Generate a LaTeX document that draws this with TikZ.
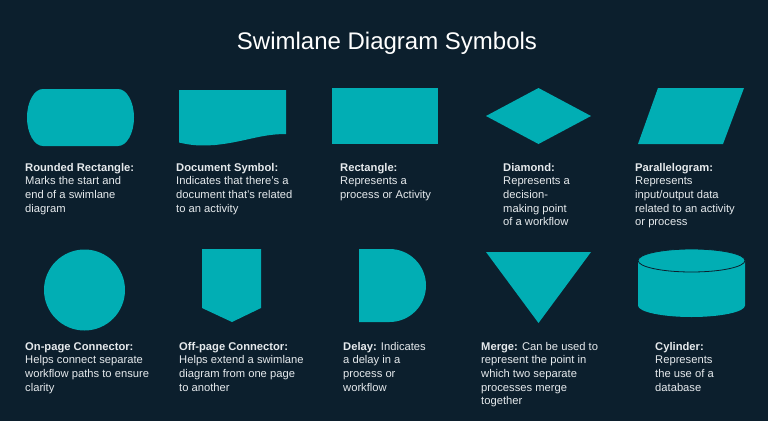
\documentclass[tikz,border=0pt]{standalone}
\usepackage{fontspec}
\setmainfont{Liberation Sans}
\definecolor{bg}{HTML}{0C1F2D}
\definecolor{tealfill}{HTML}{01AEB4}
\definecolor{txt}{HTML}{E6EAED}
\begin{document}
\begin{tikzpicture}[x=1pt,y=-1pt,
  symbol/.style={fill=tealfill},
  desc/.style={anchor=base west,inner sep=0pt,align=left,text=txt,
    font=\fontsize{11.2}{13.7}\selectfont},
  titletext/.style={inner sep=0pt,text=white,font=\fontsize{24}{28}\selectfont}]
\useasboundingbox (0,0) rectangle (768,421);
\fill[bg] (0,0) rectangle (768,421);
\node[titletext,anchor=base] (title) at (387,49) {Swimlane Diagram Symbols};
% row 1 shapes
\fill[symbol] (43,89) -- (118,89) arc (-90:90:16 and 28.5) -- (43,146) arc (90:270:16 and 28.5) -- cycle;
\fill[symbol] (179,90) -- (286,90) -- (286,134)
  .. controls (260,134) and (245,142) .. (215,145)
  .. controls (200,146) and (192,145.5) .. (179,142.5) -- cycle;
\fill[symbol] (332,88) rectangle (438,144);
\fill[symbol] (486,116) -- (538.5,88) -- (591,116) -- (538.5,144) -- cycle;
\fill[symbol] (638,144) -- (658,88) -- (744,88) -- (723,144) -- cycle;
% row 2 shapes
\fill[symbol] (84.5,290) circle (40.5);
\fill[symbol] (202,249) -- (261,249) -- (261,308) -- (232,322) -- (202,308) -- cycle;
\fill[symbol] (359,249) -- (389.5,249) arc (-90:90:36.5) -- (359,322) -- cycle;
\fill[symbol] (486,252) -- (591,252) -- (538.5,323) -- cycle;
\fill[symbol] (638,260.5) -- (638,305.5) arc (180:0:53.5 and 11.5) -- (745,260.5) arc (0:-180:53.5 and 11.5) -- cycle;
\draw[bg,line width=0.8pt] (691.5,260.5) ellipse (53.5 and 11.5);
% row 1 texts (anchored at baseline of last line; first baseline at y=171)
\node[desc] (t1) at (25,212.1) {\textbf{Rounded Rectangle:}\\Marks the start and\\end of a swimlane\\diagram};
\node[desc] (t2) at (176,212.1) {\textbf{Document Symbol:}\\Indicates that there’s a\\document that’s related\\to an activity};
\node[desc] (t3) at (340,198.4) {\textbf{Rectangle:}\\Represents a\\process or Activity};
\node[desc] (t4) at (503,225.8) {\textbf{Diamond:}\\Represents a\\decision-\\making point\\of a workflow};
\node[desc] (t5) at (635,225.8) {\textbf{Parallelogram:}\\Represents\\input/output data\\related to an activity\\or process};
% row 2 texts (first baseline at y=350)
\node[desc] (t6) at (25,391.1) {\textbf{On-page Connector:}\\Helps connect separate\\workflow paths to ensure\\clarity};
\node[desc] (t7) at (179,391.1) {\textbf{Off-page Connector:}\\Helps extend a swimlane\\diagram from one page\\to another};
\node[desc] (t8) at (343,391.1) {\textbf{Delay:} Indicates\\a delay in a\\process or\\workflow};
\node[desc] (t9) at (481,404.8) {\textbf{Merge:} Can be used to\\represent the point in\\which two separate\\processes merge\\together};
\node[desc] (t10) at (655,391.1) {\textbf{Cylinder:}\\Represents\\the use of a\\database};
\end{tikzpicture}
\end{document}
